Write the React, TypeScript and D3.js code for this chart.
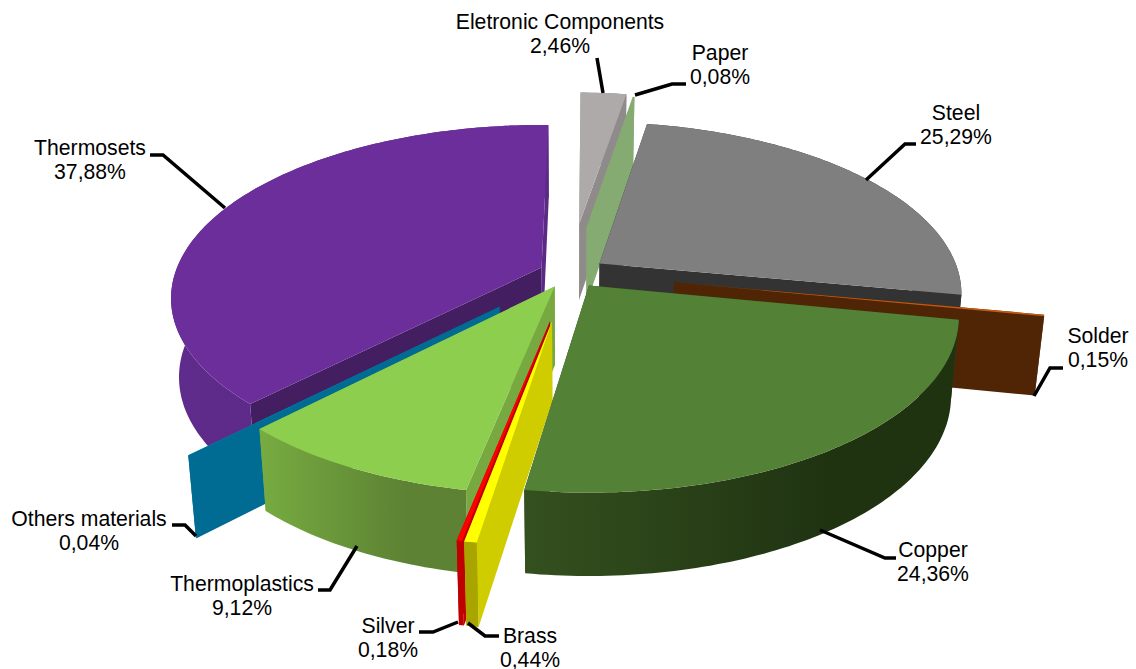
import React from "react";
import * as d3 from "d3";

const names = ["Eletronic Components", "Paper", "Steel", "Solder", "Copper", "Brass", "Silver", "Thermoplastics", "Others materials", "Thermosets"];
const percents = [2.46, 0.08, 25.29, 0.15, 24.36, 0.44, 0.18, 9.12, 0.04, 37.88];
const percentLabels = ["2,46%", "0,08%", "25,29%", "0,15%", "24,36%", "0,44%", "0,18%", "9,12%", "0,04%", "37,88%"];
const explosions = [0.31, 0.29, 0.1, 0.29, 0.09, 0.28, 0.28, 0.09, 0.27, 0.085];
const topColors = ["#aeaaaa", "#86ab72", "#7f7f7f", "#c55a11", "#538135", "#ffff00", "#ff0000", "#8dce4f", "#0080a8", "#6b2e9a"];
const startWallColors = ["#9a9696", "#86ab72", "#333333", "#4f2506", "#2c451c", "#cfcc00", "#c00000", "#78a840", "#006c93", "#431e60"];
const endWallColors = ["#8f8b8b", "#86ab72", "#333333", "#4f2506", "#2c451c", "#cfcc00", "#c00000", "#78a840", "#006c93", "#5b2a85"];
const outerLeftColors = ["#8f8b8b", "#86ab72", "#333333", "#4f2506", "#35501f", "#a8a400", "#c00000", "#77ac41", "#006c93", "#5f2b8c"];
const outerRightColors = ["#8f8b8b", "#86ab72", "#333333", "#4f2506", "#1f3311", "#a8a400", "#c00000", "#5d8233", "#006c93", "#5b2a85"];
const drawOrder = [9, 8, 0, 1, 2, 3, 7, 6, 5, 4];

const leaderLines: [number, number][][] = [
  [[603, 93], [597, 58]],
  [[635, 95], [672, 84], [686, 84]],
  [[866, 180], [905, 144], [916, 144]],
  [[1034, 396], [1050, 368], [1063, 368]],
  [[820, 530], [885, 558], [896, 558]],
  [[468, 623], [485, 636], [499, 636]],
  [[458, 622], [433, 632], [419, 632]],
  [[357, 546], [330, 590], [318, 590]],
  [[196, 536], [185, 525], [172, 525]],
  [[225, 208], [163, 155], [150, 155]],
];
const labelAnchors: [number, number][] = [
  [560, 29], [720, 60], [956, 120], [1098, 343], [933, 557],
  [530, 643], [388, 633], [242, 591], [89, 526], [90, 155],
];

const CX = 570, CY = 273, A = 363, B = 168, D = 6, DX = 120, DEPTH = 78, DEPTH_GROW = 5, BOTTOM_SHRINK = 0.02;

const pie = d3.pie<number>().sort(null).startAngle((0.5 * Math.PI) / 180).endAngle((360.5 * Math.PI) / 180);
const arcs = pie(percents);

function project(theta: number, r: number, z: number, mid: number, e: number): [number, number] {
  const gx = e * Math.sin(mid) + r * Math.sin(theta);
  const gy = -e * Math.cos(mid) - r * Math.cos(theta);
  const s = 1 / (1 - gy / D + gx / DX);
  const x = CX + gx * A * s * (1 - BOTTOM_SHRINK * z);
  const y = CY + gy * B * s + z * (DEPTH + DEPTH_GROW * gy);
  return [x, y];
}

const line = d3.line<[number, number]>();

export default function App() {
  const slices = drawOrder.map((i) => {
    const a = arcs[i];
    const e = explosions[i];
    const mid = (a.startAngle + a.endAngle) / 2;
    const steps = Math.max(2, Math.ceil(((a.endAngle - a.startAngle) * 180) / Math.PI));
    const thetas = d3.range(steps + 1).map((k) => a.startAngle + ((a.endAngle - a.startAngle) * k) / steps);
    const P = (t: number, r: number, z: number) => project(t, r, z, mid, e);
    const rim = thetas.map((t) => P(t, 1, 0));
    const rimBottom = thetas.map((t) => P(t, 1, 1));
    const top = [P(0, 0, 0), ...rim];
    const outer = [...rim, ...rimBottom.slice().reverse()];
    const wall = (t: number): [number, number][] => [P(0, 0, 0), P(t, 1, 0), P(t, 1, 1), P(0, 0, 1)];
    const xs = outer.map((p) => p[0]);
    return {
      i,
      top: line(top) + "Z",
      outer: line(outer) + "Z",
      startWall: line(wall(a.startAngle)) + "Z",
      endWall: line(wall(a.endAngle)) + "Z",
      x1: d3.min(xs) as number,
      x2: d3.max(xs) as number,
    };
  });

  return (
    <svg width={1136} height={669} style={{ position: "absolute", left: 0, top: 0 }} fontFamily="'Liberation Sans', Arial, sans-serif">
      <defs>
        {slices.map((s) => (
          <linearGradient key={s.i} id={`outer-${s.i}`} gradientUnits="userSpaceOnUse" x1={s.x1} x2={s.x2} y1={0} y2={0}>
            <stop offset="0" stopColor={outerLeftColors[s.i]} />
            <stop offset="0.7" stopColor={outerRightColors[s.i]} />
            <stop offset="1" stopColor={outerRightColors[s.i]} />
          </linearGradient>
        ))}
      </defs>
      {slices.map((s) => (
        <g key={s.i}>
          <path d={s.startWall} fill={startWallColors[s.i]} />
          <path d={s.endWall} fill={endWallColors[s.i]} />
          <path d={s.outer} fill={`url(#outer-${s.i})`} />
          <path d={s.top} fill={topColors[s.i]} />
        </g>
      ))}
      {leaderLines.map((pts, i) => (
        <path key={i} d={line(pts) as string} fill="none" stroke="#000" strokeWidth={3.5} />
      ))}
      {names.map((n, i) => (
        <text key={n} x={labelAnchors[i][0]} y={labelAnchors[i][1]} textAnchor="middle" fontSize={21.2} fill="#000">
          <tspan x={labelAnchors[i][0]}>{n}</tspan>
          <tspan x={labelAnchors[i][0]} dy={23.5}>{percentLabels[i]}</tspan>
        </text>
      ))}
    </svg>
  );
}
